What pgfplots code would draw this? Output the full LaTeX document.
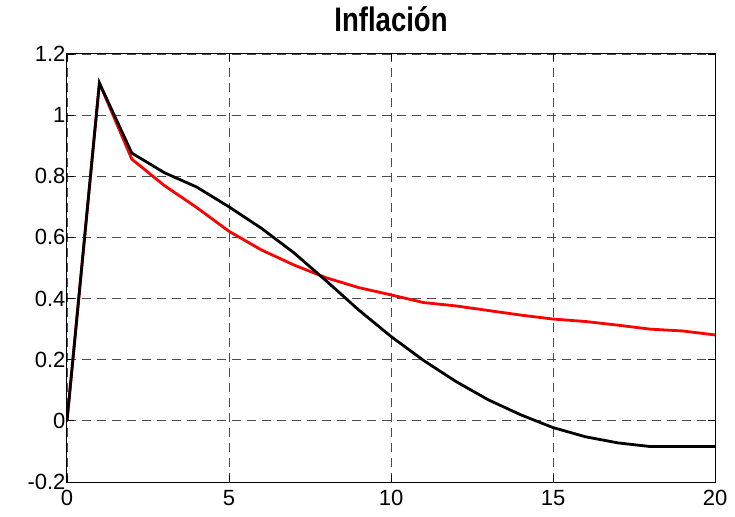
\documentclass[border=0pt]{standalone}
\usepackage{pgfplots}
\pgfplotsset{compat=1.18}
\usepackage{fontspec}
\setmainfont{Liberation Sans}
\newfontfamily\titlefont[FakeStretch=0.81]{Liberation Sans}
\begin{document}
\begin{tikzpicture}
\useasboundingbox (-67pt,-34pt) rectangle (668pt,482pt);
\begin{axis}[
  scale only axis, width=648pt, height=428pt,
  xmin=0, xmax=20, ymin=-0.2, ymax=1.2,
  xtick={0,5,10,15,20}, ytick={-0.2,0,0.2,0.4,0.6,0.8,1,1.2},
  yticklabels={-0.2,0,0.2,0.4,0.6,0.8,1,1.2},
  xticklabels={0,5,10,15,20},
  tick align=inside, tick style={black, line width=0.8pt}, major tick length=7pt,
  grid=major, grid style={black!70, line width=0.9pt, dash pattern=on 9pt off 6pt},
  axis line style={black, line width=1pt},
  x tick label style={font=\fontsize{22}{24}\selectfont, inner sep=1pt, yshift=-7pt},
  y tick label style={font=\fontsize{22}{24}\selectfont, xshift=2pt},
  title={\titlefont\fontsize{34}{36}\selectfont\bfseries Inflación},
  title style={anchor=base, at={(0.5,1)}, yshift=16pt},
  /pgf/number format/assume math mode=true,
]
\addplot[red, line width=2.8pt] coordinates {
(0,0) (1,1.105) (2,0.856) (3,0.77) (4,0.698) (5,0.62) (6,0.559) (7,0.51) (8,0.468) (9,0.436) (10,0.412) (11,0.387) (12,0.376) (13,0.361) (14,0.346) (15,0.333) (16,0.325) (17,0.313) (18,0.30) (19,0.294) (20,0.281)};
\addplot[black, line width=2.8pt] coordinates {
(0,0) (1,1.105) (2,0.876) (3,0.812) (4,0.765) (5,0.70) (6,0.630) (7,0.55) (8,0.458) (9,0.363) (10,0.276) (11,0.198) (12,0.129) (13,0.069) (14,0.02) (15,-0.022) (16,-0.052) (17,-0.072) (18,-0.084) (19,-0.084) (20,-0.084)};
\end{axis}
\end{tikzpicture}
\end{document}
